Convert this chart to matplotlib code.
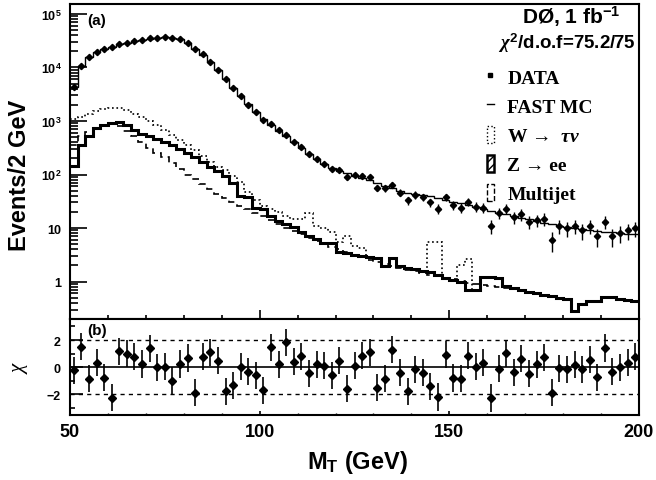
import numpy as np
import matplotlib
matplotlib.use('Agg')
import matplotlib.pyplot as plt
from matplotlib.lines import Line2D
from matplotlib.patches import Patch
from matplotlib.ticker import MultipleLocator, LogLocator, NullFormatter

plt.rcParams['font.family'] = ['Liberation Sans', 'DejaVu Sans']
plt.rcParams['font.weight'] = 'bold'
plt.rcParams['mathtext.fontset'] = 'custom'
plt.rcParams['mathtext.rm'] = 'Liberation Sans:bold'
plt.rcParams['mathtext.bf'] = 'Liberation Sans:bold'
plt.rcParams['mathtext.it'] = 'Liberation Serif:italic'
plt.rcParams['hatch.linewidth'] = 1.0

# M_T bins, 2 GeV wide, 50-200 GeV
edges = np.arange(50, 201, 2)
centers = edges[:-1] + 1

# events / 2 GeV
data = [4254, 10856, 15743, 19545, 21788, 24200, 27092, 29006, 31037, 33144,
        34929, 35480, 36309, 35810, 33944, 28314, 22118, 17503, 12723, 8956,
        6032, 4083, 2883, 2026, 1457, 1043, 894, 666, 554, 406,
        323, 238, 194, 156, 125, 122, 89, 97, 95, 89,
        57, 55, 65, 46, 33, 42, 38, 30, 23, 38,
        27, 24, 31, 25, 24, 11, 19, 23, 16, 18,
        13, 14, 15, 6, 11, 10, 11, 9, 11, 7,
        13, 7, 8, 9, 10]

fast_mc = [4270, 10700, 15850, 19500, 21900, 24550, 26900, 28840, 30900, 33100,
           34670, 35480, 36300, 36000, 33900, 28200, 22400, 17400, 12600, 8910,
           6170, 4170, 2880, 2040, 1480, 1100, 851, 661, 513, 398,
           309, 245, 191, 155, 132, 117, 105, 95.5, 87.1, 79.4,
           69.2, 61.7, 55.0, 49.0, 44.7, 42.7, 40.7, 38.9, 36.3, 33.1,
           30.9, 28.8, 26.9, 25.1, 22.9, 20.9, 19.5, 18.2, 17.0, 15.5,
           14.5, 13.5, 12.6, 11.7, 11.0, 10.5, 10.0, 9.5, 9.1, 8.7,
           8.5, 8.3, 8.1, 7.9, 7.8]

w_taunu = [1070, 1175, 1350, 1510, 1660, 1780, 1740, 1585, 1350, 1175,
           1000, 832, 692, 550, 437, 355, 282, 224, 174, 141,
           120, 95, 71, 48, 33, 26.3, 22.9, 20.0, 16.6, 14.5,
           14.5, 19.5, 11.0, 10.2, 8.3, 5.4, 7.1, 4.7, 4.2, 2.9,
           2.8, 1.95, 2.8, 1.95, 1.82, 1.70, 1.58, 5.6, 5.4, 1.15,
           1.05, 2.0, 2.6, 0.71, 1.20, 1.20, 1.15, 0.83, 0.76, 0.69,
           0.63, 0.60, 0.56, 0.54, 0.50, 0.48, 0.28, 0.38, 0.44, 0.44,
           0.52, 0.52, 0.47, 0.46, 0.44]

z_ee = [145, 355, 525, 724, 851, 933, 955, 832, 692, 575,
        513, 457, 407, 355, 302, 251, 209, 174, 138, 115,
        93, 69, 40, 38, 23.4, 22.4, 17.0, 13.8, 12.0, 10.5,
        8.5, 7.1, 6.2, 5.2, 5.2, 3.5, 3.4, 3.2, 3.0, 2.9,
        2.8, 1.95, 2.8, 1.95, 1.82, 1.70, 1.58, 1.48, 1.32, 1.15,
        1.05, 1.0, 0.71, 0.71, 1.20, 1.20, 1.15, 0.83, 0.76, 0.69,
        0.63, 0.60, 0.56, 0.54, 0.50, 0.48, 0.28, 0.38, 0.44, 0.44,
        0.52, 0.52, 0.47, 0.46, 0.44]

# multijet only shown up to 166 GeV
multijet = [355, 525, 631, 724, 794, 891, 794, 661, 525, 398,
            316, 257, 209, 166, 126, 100, 81, 66, 52.5, 43.7,
            36.3, 30.2, 26.3, 22.4, 19.5, 17.0, 14.1, 12.0, 10.2, 8.9,
            7.6, 6.6, 5.75, 5.0, 4.47, 3.98, 3.55, 3.16, 2.82, 2.57,
            2.34, 2.14, 1.95, 1.82, 1.66, 1.55, 1.45, 1.35, 1.26, 1.17,
            1.10, 1.02, 0.95, 0.91, 0.87, 0.83, 0.79, 0.76]

chi = [-0.24, 1.51, -0.85, 0.32, -0.76, -2.24, 1.17, 0.98, 0.78, 0.24,
       1.39, 0.0, 0.05, -1.0, 0.24, 0.68, -1.88, 0.78, 1.10, 0.49,
       -1.76, -1.34, 0.05, -0.32, -0.61, -1.71, 1.46, 0.2, 1.83, 0.41,
       0.80, -0.44, 0.2, 0.12, -0.61, 0.49, -1.59, 0.1, 0.85, 1.10,
       -1.51, -0.85, 1.29, -0.41, -1.78, -0.17, -0.41, -1.41, -2.20, 0.93,
       -0.80, -0.85, 0.85, 0.05, 0.32, -2.27, -0.12, 1.02, -0.37, 0.61,
       -0.49, 0.2, 0.73, -1.88, -0.07, -0.17, 0.17, -0.17, 0.56, -0.73,
       1.41, -0.32, 0.0, 0.32, 0.78]
chi_ref = [-2, 2]

data = np.array(data, dtype=float)

W, H = 656, 481
fig = plt.figure(figsize=(W / 100, H / 100), dpi=100)
ax1 = fig.add_axes([70 / W, 1 - 320 / H, 569 / W, 315.3 / H])
ax2 = fig.add_axes([70 / W, 1 - 415.7 / H, 569 / W, 95.7 / H])

# top panel
ax1.stairs(w_taunu, edges, baseline=None, color='k', lw=1.2, ls=':')
ax1.stairs(multijet, edges[:len(multijet) + 1], baseline=None, color='k', lw=1.2, ls=(0, (4, 3)))
ax1.stairs(z_ee, edges, baseline=None, color='k', lw=2.2)
ax1.stairs(fast_mc, edges, baseline=None, color='k', lw=1.0)
ax1.errorbar(centers, data, yerr=np.sqrt(data), fmt='D', ms=3.2, color='k',
             elinewidth=1.0, capsize=0)

ax1.set_yscale('log')
ax1.set_xlim(50, 200)
ax1.set_ylim(0.2, 1.55e5)
ax1.set_yticks([1, 10, 1e2, 1e3, 1e4, 1e5])
ax1.set_yticklabels(['1', '10', '$10^{2}$', '$10^{3}$', '$10^{4}$', '$10^{5}$'])
ax1.yaxis.set_minor_locator(LogLocator(base=10, subs=np.arange(2, 10), numticks=20))
ax1.yaxis.set_minor_formatter(NullFormatter())
ax1.xaxis.set_major_locator(MultipleLocator(50))
ax1.xaxis.set_minor_locator(MultipleLocator(10))
ax1.tick_params(axis='x', which='major', direction='in', length=6.5, width=1.2, labelbottom=False)
ax1.tick_params(axis='x', which='minor', direction='in', length=3.2, width=1.2)
ax1.tick_params(axis='y', which='major', direction='in', length=12, width=1.2, labelsize=9, pad=6)
ax1.tick_params(axis='y', which='minor', direction='in', length=6, width=1.2)

ax1.text(0.030, 0.947, '(a)', transform=ax1.transAxes, fontsize=11, ha='left', va='center')
ax1.text(0.880, 0.961, r'DØ, 1 fb$^{-1}$', transform=ax1.transAxes, fontsize=15,
         ha='center', va='center')
ax1.text(0.873, 0.879, r'$\chi^{2}$/d.o.f=75.2/75', transform=ax1.transAxes, fontsize=13.5,
         ha='center', va='center')

handles = [Line2D([], [], marker='s', ms=3, ls='none', color='k'),
           Line2D([], [], color='k', lw=1.0),
           Patch(facecolor='none', edgecolor='k', ls=':', lw=1.0),
           Patch(facecolor='none', edgecolor='k', hatch='////', lw=1.8),
           Patch(facecolor='none', edgecolor='k', ls='--', lw=1.0)]
labels = ['DATA', 'FAST MC', r'W →  $\tau\nu$', 'Z → ee', 'Multijet']
ax1.legend(handles, labels, loc='upper left', bbox_to_anchor=(0.733, 0.797),
           frameon=False, borderpad=0, borderaxespad=0, handlelength=0.35,
           handleheight=1.0, handletextpad=0.7, labelspacing=0.5,
           prop={'family': ['Liberation Serif', 'DejaVu Serif'], 'weight': 'bold', 'size': 14})

# chi panel
ax2.errorbar(centers, chi, yerr=1.0, fmt='D', ms=4.5, color='k', elinewidth=1.2, capsize=0)
ax2.axhline(0, color='k', lw=1.2)
for r in chi_ref:
    ax2.axhline(r, color='k', lw=1.0, ls=(0, (3, 3)))
ax2.set_xlim(50, 200)
ax2.set_ylim(-3.5, 3.55)
ax2.set_yticks([-2, 0, 2])
ax2.yaxis.set_minor_locator(MultipleLocator(1))
ax2.xaxis.set_major_locator(MultipleLocator(50))
ax2.xaxis.set_minor_locator(MultipleLocator(10))
ax2.tick_params(axis='y', which='major', direction='in', length=9.4, width=1.2, labelsize=9, pad=7)
ax2.tick_params(axis='y', which='minor', direction='in', length=3.6, width=1.2)
ax2.tick_params(axis='x', which='major', direction='in', length=3, width=1.2, labelsize=13, pad=6)
ax2.tick_params(axis='x', which='minor', direction='in', length=1.5, width=1.0)
ax2.text(0.030, 0.88, '(b)', transform=ax2.transAxes, fontsize=11, ha='left', va='center')

for ax in (ax1, ax2):
    for s in ax.spines.values():
        s.set_linewidth(1.5)

fig.text(20 / W, 1 - 175 / H, 'Events/2 GeV', rotation=90, ha='center', va='center', fontsize=17)
fig.text(20 / W, 1 - 369 / H, 'χ', rotation=90, ha='center', va='center', fontsize=15,
         family=['Liberation Serif', 'DejaVu Serif'], style='italic', weight='normal')
fig.text(357 / W, 1 - 463 / H, r'M$_{\mathrm{T}}$ (GeV)', ha='center', va='center', fontsize=17)

fig.savefig('out.png', dpi=100)
